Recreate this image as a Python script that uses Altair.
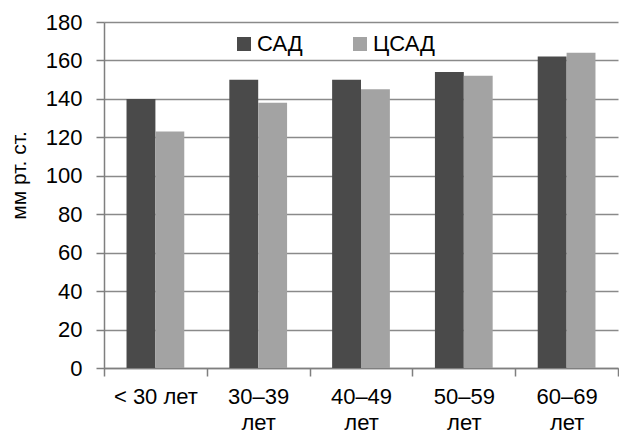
import altair as alt
import pandas as pd

categories = ["< 30 лет", "30–39 лет", "40–49 лет", "50–59 лет", "60–69 лет"]
series = ["САД", "ЦСАД"]
sad = [140, 150, 150, 154, 162]
csad = [123, 138, 145, 152, 164]
colors = ["#4a4a4a", "#a3a3a3"]
y_ticks = [0, 20, 40, 60, 80, 100, 120, 140, 160, 180]

rows = []
for c, a, b in zip(categories, sad, csad):
    rows.append({"cat": c, "series": series[0], "value": a})
    rows.append({"cat": c, "series": series[1], "value": b})
df = pd.DataFrame(rows)

FONT = "Liberation Sans"
W, H = 514, 346

chart = alt.Chart(df).mark_bar().encode(
    x=alt.X("cat:N", sort=categories, title=None,
            scale=alt.Scale(paddingInner=0, paddingOuter=0),
            axis=alt.Axis(labelAngle=0, tickBand="extent", grid=False,
                          tickSize=8, labelPadding=10, labelFontSize=22,
                          labelLineHeight=26,
                          labelExpr="datum.label[0] == '<' ? datum.label : split(datum.label, ' ')")),
    xOffset=alt.XOffset("series:N", sort=series,
                        scale=alt.Scale(paddingInner=0, paddingOuter=0.78)),
    y=alt.Y("value:Q", title="мм рт. ст.",
            scale=alt.Scale(domain=[0, 180], nice=False),
            axis=alt.Axis(values=y_ticks, tickSize=8, labelPadding=14,
                          labelFontSize=22, titleFontSize=21, titleFontWeight="normal",
                          titleX=-75, titleY=153, titleBaseline="bottom",
                          grid=True)),
    color=alt.Color("series:N", sort=series,
                    scale=alt.Scale(domain=series, range=colors),
                    legend=alt.Legend(title=None, orient="none", direction="horizontal",
                                      legendX=129, legendY=11, symbolType="square",
                                      symbolSize=196, symbolStrokeWidth=0,
                                      labelFontSize=22, labelOffset=2,
                                      columnPadding=46, padding=0)),
).properties(
    width=W, height=H,
    padding={"left": 0, "top": 3, "right": 0, "bottom": 0},
).configure(
    font=FONT,
).configure_axis(
    domainColor="#7f7f7f", domainWidth=1.5, tickColor="#7f7f7f", tickWidth=1.5,
    gridColor="#8a8a8a", gridWidth=1.5, labelColor="#000000", titleColor="#000000",
    labelFont=FONT, titleFont=FONT,
).configure_legend(
    labelFont=FONT, labelColor="#000000",
).configure_view(
    stroke=None,
)

chart.save("out.html", embed_options={"renderer": "svg", "actions": False})
